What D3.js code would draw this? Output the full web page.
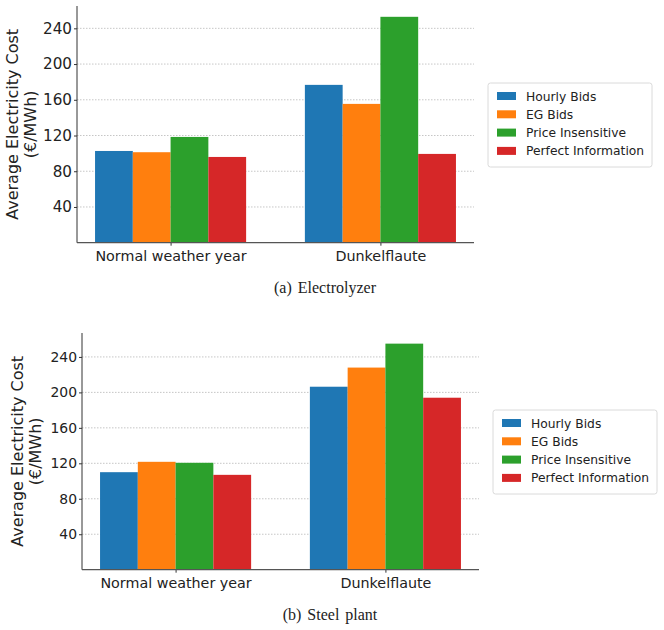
<!DOCTYPE html>
<html>
<head>
<meta charset="utf-8">
<script src="https://cdn.jsdelivr.net/npm/d3@7"></script>
<style>
  body { margin: 0; background: white; }
  svg { display: block; }
</style>
</head>
<body>
<div id="chart"></div>
<script>
// categories on the x axis
const categories = ['Normal weather year', 'Dunkelflaute'];
// bidding strategies (legend)
const seriesNames = ['Hourly Bids', 'EG Bids', 'Price Insensitive', 'Perfect Information'];
const seriesColors = ['#1f77b4', '#ff7f0e', '#2ca02c', '#d62728'];
const yTicks = [40, 80, 120, 160, 200, 240];

// (a) electrolyzer, one array per strategy: [normal, dunkelflaute]
const electrolyzerHourly = [102.7, 176.7];
const electrolyzerEG = [101.3, 155.4];
const electrolyzerInsensitive = [118.4, 252.9];
const electrolyzerPerfect = [96.0, 99.4];

// (b) steel plant
const steelHourly = [110.0, 206.4];
const steelEG = [121.7, 228.0];
const steelInsensitive = [120.6, 255.0];
const steelPerfect = [107.0, 194.0];

const width = 664, height = 630;

let svg = d3.select('#chart')
            .append('svg')
            .attr('width', width)
            .attr('height', height)
            .style('font-family', 'DejaVu Sans');

// draws one panel (axes, bars, legend, caption)
function drawPanel(p) {
    let values = [p.hourly, p.eg, p.insensitive, p.perfect];
    let barW = 0.18;

    let xScale = d3.scaleLinear()
                .domain([-0.446, 1.446])
                .range([p.left, p.right]);

    let yScale = d3.scaleLinear()
                .domain([0, p.yMax])
                .range([p.bottom, p.top]);

    let g = svg.append('g');

    // dotted gridlines
    g.selectAll('line.grid')
        .data(yTicks)
        .enter()
        .append('line')
        .attr('class', 'grid')
        .attr('x1', p.left)
        .attr('x2', p.right)
        .attr('y1', d => yScale(d))
        .attr('y2', d => yScale(d))
        .attr('stroke', '#b8b8b8')
        .attr('stroke-width', 0.8)
        .attr('stroke-dasharray', '1.5,1.5');

    // bars
    values.forEach(function(vals, i) {
        g.selectAll('rect.s' + i)
            .data(vals)
            .enter()
            .append('rect')
            .attr('class', 's' + i)
            .attr('x', (d, j) => xScale(j + (i - 1.5) * barW - barW / 2))
            .attr('width', xScale(barW) - xScale(0))
            .attr('y', d => yScale(d))
            .attr('height', d => yScale(0) - yScale(d))
            .attr('fill', seriesColors[i]);
    });

    // y axis
    let yAxis = g.append('g')
                .attr('transform', `translate(${p.left}, 0)`)
                .call(d3.axisLeft(yScale).tickValues(yTicks).tickSize(3).tickPadding(2));
    yAxis.select('.domain').remove();
    yAxis.selectAll('line').attr('stroke', '#333');
    yAxis.selectAll('text')
        .style('font-family', 'DejaVu Sans')
        .style('font-size', p.yTickSize + 'px')
        .attr('fill', '#222');

    // left spine
    g.append('line')
        .attr('x1', p.left).attr('x2', p.left)
        .attr('y1', p.top).attr('y2', p.bottom)
        .attr('stroke', '#333')
        .attr('stroke-width', 1);

    // x axis
    let xAxis = g.append('g')
                .attr('transform', `translate(0, ${p.bottom})`)
                .call(d3.axisBottom(xScale).tickValues([0, 1])
                        .tickFormat(d => categories[d]).tickSize(3).tickPadding(5));
    xAxis.select('.domain').remove();
    xAxis.selectAll('line').attr('stroke', '#333');
    xAxis.selectAll('text')
        .style('font-family', 'DejaVu Sans')
        .style('font-size', '14.3px')
        .attr('fill', '#222');

    // bottom spine
    g.append('line')
        .attr('x1', p.left).attr('x2', p.right)
        .attr('y1', p.bottom).attr('y2', p.bottom)
        .attr('stroke', '#555')
        .attr('stroke-width', 1.2);

    // y axis label in two lines
    let midY = (p.top + p.bottom) / 2;
    g.append('text')
        .attr('transform', `translate(${p.labelX1}, ${midY}) rotate(-90)`)
        .style('text-anchor', 'middle')
        .style('font-size', '16px')
        .attr('fill', '#222')
        .text('Average Electricity Cost');
    g.append('text')
        .attr('transform', `translate(${p.labelX2}, ${midY}) rotate(-90)`)
        .style('text-anchor', 'middle')
        .style('font-size', '16px')
        .attr('fill', '#222')
        .text('(€/MWh)');

    // legend
    let legend = g.append('g')
                .attr('transform', `translate(${p.legX}, ${p.legY})`);
    legend.append('rect')
        .attr('x', 0).attr('y', 0)
        .attr('width', 164).attr('height', 84)
        .attr('rx', 2.5)
        .attr('fill', 'white')
        .attr('stroke', '#d0d0d0')
        .attr('stroke-width', 0.8);

    let legendItem = legend.selectAll('.legend-item')
        .data(seriesNames)
        .enter()
        .append('g')
        .attr('class', 'legend-item')
        .attr('transform', (d, i) => `translate(0, ${13 + i * 18.3})`);

    legendItem.append('rect')
        .attr('x', 9)
        .attr('y', -4)
        .attr('width', 19)
        .attr('height', 8)
        .attr('fill', (d, i) => seriesColors[i]);

    legendItem.append('text')
        .attr('x', 38)
        .attr('y', 4.5)
        .text(d => d)
        .style('font-size', '12.3px')
        .attr('fill', '#222');

    // caption under the panel
    g.append('text')
        .attr('x', p.captionX)
        .attr('y', p.captionY)
        .style('text-anchor', 'middle')
        .style('font-family', 'Liberation Serif')
        .style('font-size', '16px')
        .style('word-spacing', '2px')
        .attr('fill', '#222')
        .text(p.caption);
}

drawPanel({
    hourly: electrolyzerHourly, eg: electrolyzerEG,
    insensitive: electrolyzerInsensitive, perfect: electrolyzerPerfect,
    left: 77, right: 474, top: 6, bottom: 242.7, yMax: 265,
    yTickSize: 15.2, labelX1: 18, labelX2: 36,
    legX: 488, legY: 83,
    caption: '(a) Electrolyzer', captionX: 325, captionY: 293
});

drawPanel({
    hourly: steelHourly, eg: steelEG,
    insensitive: steelInsensitive, perfect: steelPerfect,
    left: 82, right: 479, top: 333, bottom: 569.7, yMax: 267,
    yTickSize: 13.9, labelX1: 23, labelX2: 41,
    legX: 493, legY: 410,
    caption: '(b) Steel plant', captionX: 330, captionY: 620
});
</script>
</body>
</html>
